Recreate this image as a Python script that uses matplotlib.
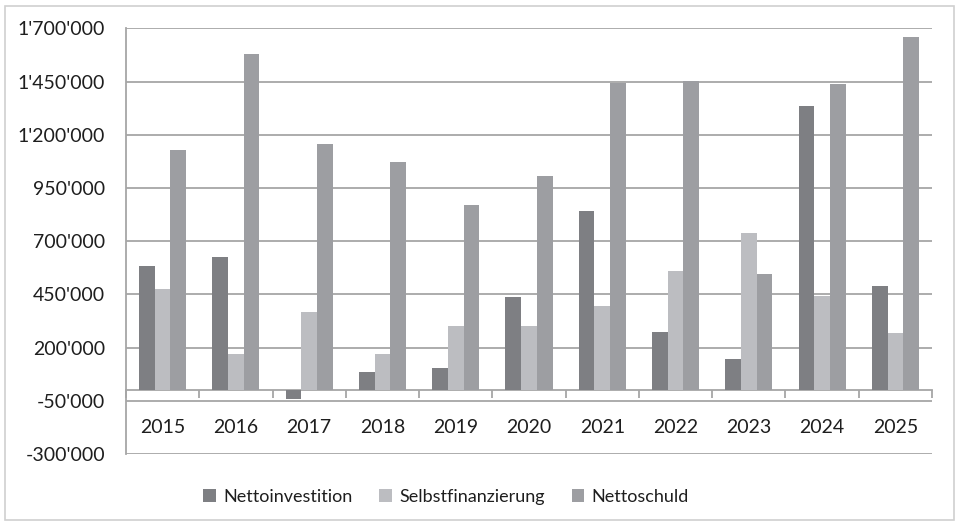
import numpy as np
import matplotlib.pyplot as plt
from matplotlib.patches import Rectangle
from matplotlib.ticker import FuncFormatter

years = ['2015', '2016', '2017', '2018', '2019', '2020', '2021', '2022', '2023', '2024', '2025']
nettoinvestition = [584000, 627000, -42000, 84000, 106000, 439000, 841000, 273000, 145000, 1337000, 491000]
selbstfinanzierung = [475000, 172000, 366000, 169000, 300000, 300000, 397000, 558000, 738000, 441000, 270000]
nettoschuld = [1128000, 1577000, 1158000, 1072000, 872000, 1008000, 1443000, 1451000, 545000, 1440000, 1659000]

plt.rcParams['font.family'] = ['Lato', 'DejaVu Sans']

fig = plt.figure(figsize=(9.58, 5.26), dpi=100)
ax = fig.add_axes([0.1315, 0.1369, 0.8414, 0.8093])

x = np.arange(len(years))
w = 0.214
ax.bar(x - w, nettoinvestition, w, color='#7e7f83', label='Nettoinvestition', zorder=3)
ax.bar(x, selbstfinanzierung, w, color='#bcbdc1', label='Selbstfinanzierung', zorder=3)
ax.bar(x + w, nettoschuld, w, color='#9d9ea2', label='Nettoschuld', zorder=3)

grid_c = '#a6a6a6'
txt_c = '#1e1e1e'
ax.set_ylim(-300000, 1700000)
ax.set_xlim(-0.5, len(years) - 0.5)
ax.set_yticks(np.arange(-300000, 1700001, 250000))
ax.yaxis.set_major_formatter(FuncFormatter(lambda v, p: f"{int(v):,}".replace(',', "'")))
ax.yaxis.grid(True, color=grid_c, linewidth=1.3, zorder=0)
ax.tick_params(axis='y', length=0, pad=15, labelsize=14, labelcolor=txt_c)

# category axis sitting on zero
ax.spines['bottom'].set_position(('data', 0))
ax.spines['bottom'].set_color(grid_c)
ax.spines['bottom'].set_linewidth(1.3)
ax.spines['left'].set_color(grid_c)
ax.spines['left'].set_linewidth(1.3)
ax.spines['top'].set_visible(False)
ax.spines['right'].set_visible(False)

ax.set_xticks(np.arange(len(years) + 1) - 0.5)
ax.set_xticklabels([])
ax.tick_params(axis='x', which='major', length=6, width=1.3, color=grid_c, direction='out')
ax.set_xticks(x, minor=True)
ax.set_xticklabels(years, minor=True)
ax.tick_params(axis='x', which='minor', length=0, pad=21, labelsize=14, labelcolor=txt_c)

leg = fig.legend(loc='center', bbox_to_anchor=(446 / 958, 1 - 497 / 526), ncol=3, frameon=False,
                 fontsize=13, handlelength=0.7, handleheight=0.7, handletextpad=0.4,
                 columnspacing=1.5)
for t in leg.get_texts():
    t.set_color(txt_c)

fig.add_artist(Rectangle((5 / 958, 6 / 526), 949 / 958, 514 / 526, transform=fig.transFigure,
                         fill=False, edgecolor='#d0d0d0', linewidth=1.2))

fig.savefig('out.png', dpi=100)
